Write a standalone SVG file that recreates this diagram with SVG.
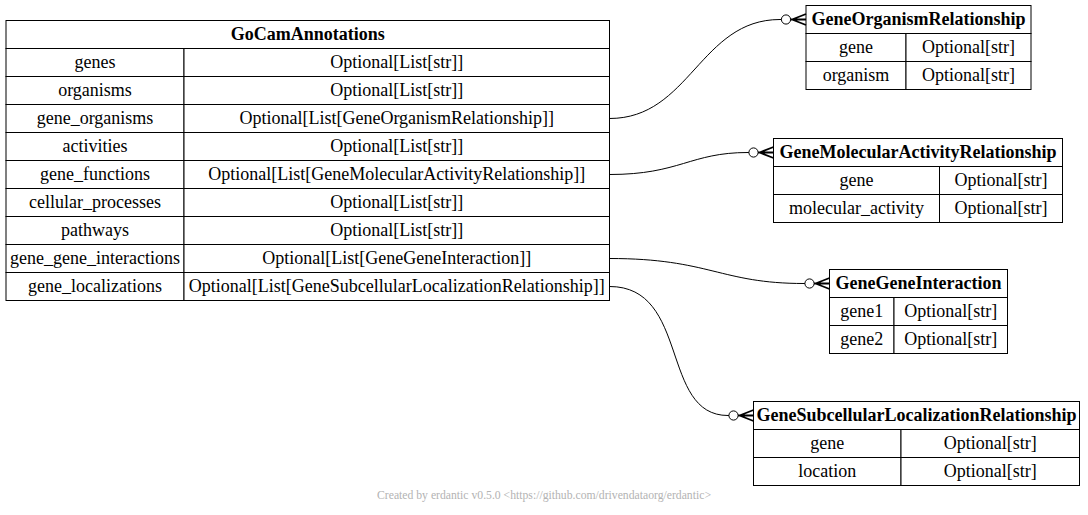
<svg xmlns="http://www.w3.org/2000/svg" width="1088" height="515" viewBox="0 0 1088 515">
<style>
.cell{fill:#fff;stroke:#000;stroke-width:1}
.t{font-family:"Liberation Serif","Times New Roman",serif;font-size:18px;fill:#000;text-anchor:middle}
.h{font-weight:bold}
.edge{fill:none;stroke:#000;stroke-width:1}
.foot{font-family:"Liberation Serif","Times New Roman",serif;font-size:11.7px;fill:#b3b3b3;text-anchor:middle}
</style>
<defs>
<marker id="crowodot" markerUnits="userSpaceOnUse" viewBox="-26 -8 28 16" refX="0" refY="0" markerWidth="28" markerHeight="16" orient="auto" overflow="visible">
<circle cx="-20" cy="0" r="4.6" fill="#fff" stroke="#000" stroke-width="1"/>
<path d="M-15.4,0 L0,0 M-14,0 L0,-5.5 M-14,0 L0,5.5" fill="none" stroke="#000" stroke-width="1.8"/>
</marker>
</defs>
<rect width="1088" height="515" fill="#fff"/>

<g id="GoCamAnnotations">
<rect class="cell" x="6" y="20.5" width="603.5" height="28"/>
<text class="t h" x="307.75" y="39.5">GoCamAnnotations</text>
<rect class="cell" x="6" y="48.5" width="178" height="28"/><rect class="cell" x="184" y="48.5" width="425.5" height="28"/>
<text class="t" x="95" y="67.5">genes</text><text class="t" x="396.75" y="67.5">Optional[List[str]]</text>
<rect class="cell" x="6" y="76.5" width="178" height="28"/><rect class="cell" x="184" y="76.5" width="425.5" height="28"/>
<text class="t" x="95" y="95.5">organisms</text><text class="t" x="396.75" y="95.5">Optional[List[str]]</text>
<rect class="cell" x="6" y="104.5" width="178" height="28"/><rect class="cell" x="184" y="104.5" width="425.5" height="28"/>
<text class="t" x="95" y="123.5">gene_organisms</text><text class="t" x="396.75" y="123.5">Optional[List[GeneOrganismRelationship]]</text>
<rect class="cell" x="6" y="132.5" width="178" height="28"/><rect class="cell" x="184" y="132.5" width="425.5" height="28"/>
<text class="t" x="95" y="151.5">activities</text><text class="t" x="396.75" y="151.5">Optional[List[str]]</text>
<rect class="cell" x="6" y="160.5" width="178" height="28"/><rect class="cell" x="184" y="160.5" width="425.5" height="28"/>
<text class="t" x="95" y="179.5">gene_functions</text><text class="t" x="396.75" y="179.5">Optional[List[GeneMolecularActivityRelationship]]</text>
<rect class="cell" x="6" y="188.5" width="178" height="28"/><rect class="cell" x="184" y="188.5" width="425.5" height="28"/>
<text class="t" x="95" y="207.5">cellular_processes</text><text class="t" x="396.75" y="207.5">Optional[List[str]]</text>
<rect class="cell" x="6" y="216.5" width="178" height="28"/><rect class="cell" x="184" y="216.5" width="425.5" height="28"/>
<text class="t" x="95" y="235.5">pathways</text><text class="t" x="396.75" y="235.5">Optional[List[str]]</text>
<rect class="cell" x="6" y="244.5" width="178" height="28"/><rect class="cell" x="184" y="244.5" width="425.5" height="28"/>
<text class="t" x="95" y="263.5">gene_gene_interactions</text><text class="t" x="396.75" y="263.5">Optional[List[GeneGeneInteraction]]</text>
<rect class="cell" x="6" y="272.5" width="178" height="28"/><rect class="cell" x="184" y="272.5" width="425.5" height="28"/>
<text class="t" x="95" y="291.5">gene_localizations</text><text class="t" x="396.75" y="291.5">Optional[List[GeneSubcellularLocalizationRelationship]]</text>
</g>

<g id="GeneOrganismRelationship">
<rect class="cell" x="806" y="5.5" width="225" height="28"/>
<text class="t h" x="918.5" y="24.5">GeneOrganismRelationship</text>
<rect class="cell" x="806" y="33.5" width="100" height="28"/><rect class="cell" x="906" y="33.5" width="125" height="28"/>
<text class="t" x="856" y="52.5">gene</text><text class="t" x="968.5" y="52.5">Optional[str]</text>
<rect class="cell" x="806" y="61.5" width="100" height="28"/><rect class="cell" x="906" y="61.5" width="125" height="28"/>
<text class="t" x="856" y="80.5">organism</text><text class="t" x="968.5" y="80.5">Optional[str]</text>
</g>

<g id="GeneMolecularActivityRelationship">
<rect class="cell" x="773.5" y="138.5" width="289" height="28"/>
<text class="t h" x="918" y="157.5">GeneMolecularActivityRelationship</text>
<rect class="cell" x="773.5" y="166.5" width="166" height="28"/><rect class="cell" x="939.5" y="166.5" width="123" height="28"/>
<text class="t" x="856.5" y="185.5">gene</text><text class="t" x="1001" y="185.5">Optional[str]</text>
<rect class="cell" x="773.5" y="194.5" width="166" height="28"/><rect class="cell" x="939.5" y="194.5" width="123" height="28"/>
<text class="t" x="856.5" y="213.5">molecular_activity</text><text class="t" x="1001" y="213.5">Optional[str]</text>
</g>

<g id="GeneGeneInteraction">
<rect class="cell" x="829.5" y="269.5" width="178" height="28"/>
<text class="t h" x="918.5" y="288.5">GeneGeneInteraction</text>
<rect class="cell" x="829.5" y="297.5" width="64.5" height="28"/><rect class="cell" x="894" y="297.5" width="113.5" height="28"/>
<text class="t" x="861.75" y="316.5">gene1</text><text class="t" x="950.75" y="316.5">Optional[str]</text>
<rect class="cell" x="829.5" y="325.5" width="64.5" height="28"/><rect class="cell" x="894" y="325.5" width="113.5" height="28"/>
<text class="t" x="861.75" y="344.5">gene2</text><text class="t" x="950.75" y="344.5">Optional[str]</text>
</g>

<g id="GeneSubcellularLocalizationRelationship">
<rect class="cell" x="753.5" y="401.5" width="326" height="28"/>
<text class="t h" x="916.5" y="420.5">GeneSubcellularLocalizationRelationship</text>
<rect class="cell" x="753.5" y="429.5" width="147.5" height="28"/><rect class="cell" x="901" y="429.5" width="178.5" height="28"/>
<text class="t" x="827.25" y="448.5">gene</text><text class="t" x="990.25" y="448.5">Optional[str]</text>
<rect class="cell" x="753.5" y="457.5" width="147.5" height="28"/><rect class="cell" x="901" y="457.5" width="178.5" height="28"/>
<text class="t" x="827.25" y="476.5">location</text><text class="t" x="990.25" y="476.5">Optional[str]</text>
</g>

<g id="connectors">
<path class="edge" d="M609.5,118.5 C690,118.5 700,19.5 780,19.5 L806,19.5" marker-end="url(#crowodot)"/>
<path class="edge" d="M609.5,174.5 C680,174.5 690,152.5 748,152.5 L773.5,152.5" marker-end="url(#crowodot)"/>
<path class="edge" d="M609.5,258.5 C710,258.5 720,283.5 804,283.5 L829.5,283.5" marker-end="url(#crowodot)"/>
<path class="edge" d="M609.5,286.5 C690,286.5 660,415.5 728,415.5 L753.5,415.5" marker-end="url(#crowodot)"/>
</g>

<text class="foot" x="544" y="499">Created by erdantic v0.5.0 &lt;https://github.com/drivendataorg/erdantic&gt;</text>
</svg>
